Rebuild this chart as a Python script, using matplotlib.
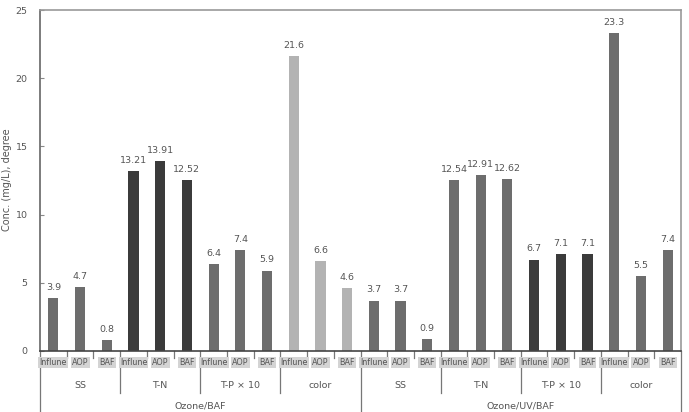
import numpy as np
from matplotlib import pyplot as plt

# data
processes = ["Ozone/BAF", "Ozone/UV/BAF"]
params = ["SS", "T-N", "T-P \u00d7 10", "color"]
stages = ["Influne", "AOP", "BAF"]

ozone_baf = [3.9, 4.7, 0.8, 13.21, 13.91, 12.52, 6.4, 7.4, 5.9, 21.6, 6.6, 4.6]
ozone_uv_baf = [3.7, 3.7, 0.9, 12.54, 12.91, 12.62, 6.7, 7.1, 7.1, 23.3, 5.5, 7.4]
value_labels = ["3.9", "4.7", "0.8", "13.21", "13.91", "12.52", "6.4", "7.4", "5.9", "21.6", "6.6", "4.6",
                "3.7", "3.7", "0.9", "12.54", "12.91", "12.62", "6.7", "7.1", "7.1", "23.3", "5.5", "7.4"]

mid = "#6d6d6d"
dark = "#3b3b3b"
light = "#b3b3b3"
group_colors = [mid, dark, mid, light, mid, mid, dark, mid]

values = ozone_baf + ozone_uv_baf
colors = []
for c in group_colors:
    colors += [c] * 3
x = np.arange(len(values))

fig = plt.figure(figsize=(6.89, 4.12), dpi=100)
ax = fig.add_axes([40 / 689, 1 - 351 / 412, 641 / 689, 341 / 412])

ax.bar(x, values, width=0.38, color=colors)
for i, v in enumerate(values):
    ax.text(x[i], v + 0.45, value_labels[i], ha="center", va="bottom",
            fontsize=6.8, color="#555555")

ax.set_xlim(-0.5, len(values) - 0.5)
ax.set_ylim(0, 25)
ax.set_yticks([0, 5, 10, 15, 20, 25])
ax.tick_params(axis="y", direction="in", length=3, labelsize=6.8,
               labelcolor="#555555", color="#888888", pad=9)
ax.set_xticks([])
for s in ax.spines.values():
    s.set_color("#999999")
    s.set_linewidth(1.2)
ax.spines["bottom"].set_color("#444444")
ax.spines["left"].set_color("#666666")
fig.text(7 / 689, 1 - 180 / 412, "Conc. (mg/L), degree", rotation=90,
         ha="center", va="center", fontsize=7, color="#555555")

# multi-level category axis
trans = ax.get_xaxis_transform()
lc = "#777777"
for i in range(len(values) + 1):
    b = i - 0.5
    if i % 12 == 0:
        ax.plot([b, b], [0, -0.179], color=lc, lw=0.9, transform=trans, clip_on=False)
    elif i % 3 == 0:
        ax.plot([b, b], [0, -0.123], color=lc, lw=0.9, transform=trans, clip_on=False)
    else:
        ax.plot([b, b], [0, -0.02], color=lc, lw=0.9, transform=trans, clip_on=False)

for i in range(len(values)):
    ax.text(x[i], -0.033, stages[i % 3], transform=trans, ha="center", va="center",
            fontsize=5.8, color="#555555",
            bbox=dict(boxstyle="square,pad=0.15", facecolor="#d4d4d4", edgecolor="none"))

for g in range(8):
    ax.text(3 * g + 1, -0.1, params[g % 4], transform=trans, ha="center", va="center",
            fontsize=6.8, color="#555555")

for p in range(2):
    ax.text(12 * p + 5.5, -0.16, processes[p], transform=trans, ha="center", va="center",
            fontsize=6.8, color="#555555")

plt.savefig("out.png", dpi=100)
